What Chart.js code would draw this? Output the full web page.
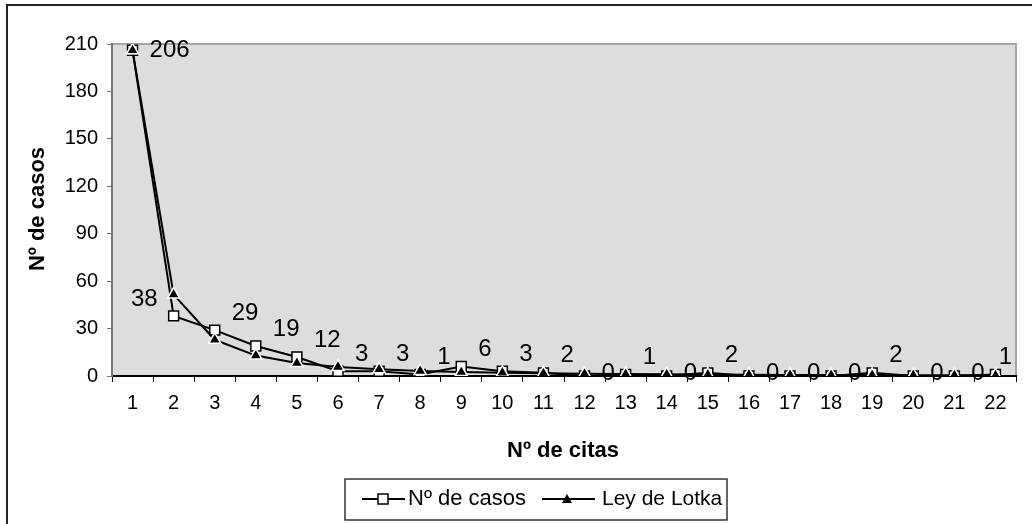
<!DOCTYPE html>
<html>
<head>
<meta charset="utf-8">
<script src="https://cdn.jsdelivr.net/npm/chart.js@4.4.1/dist/chart.umd.min.js"></script>
<style>
  html, body { margin: 0; padding: 0; background: #fff; }
  #wrap { width: 1032px; height: 524px; position: relative; }
</style>
</head>
<body>
<div id="wrap"><canvas id="chart" width="1032" height="524"></canvas></div>
<script>
// ---- data ----
const citas = ['1','2','3','4','5','6','7','8','9','10','11','12','13','14','15','16','17','18','19','20','21','22'];
const casos = [206, 38, 29, 19, 12, 3, 3, 1, 6, 3, 2, 0, 1, 0, 2, 0, 0, 0, 2, 0, 0, 1];
const lotka = [206, 51.5, 22.9, 12.9, 8.2, 5.7, 4.2, 3.2, 2.5, 2.1, 1.7, 1.4, 1.2, 1.1, 0.9, 0.8, 0.7, 0.6, 0.6, 0.5, 0.5, 0.4];
const yTicks = [0, 30, 60, 90, 120, 150, 180, 210];

const FONT = '"Liberation Sans", Arial, sans-serif';

// plot background, frame, titles, labels and legend
const excelLook = {
  id: 'excelLook',
  beforeDraw(chart) {
    const { ctx, chartArea: a } = chart;
    ctx.save();
    ctx.fillStyle = '#fff';
    ctx.fillRect(0, 0, chart.width, chart.height);
    // outer frame (runs past the window on right/bottom)
    ctx.strokeStyle = '#222';
    ctx.lineWidth = 2;
    ctx.strokeRect(7, 5, 1100, 600);
    // plot area
    ctx.fillStyle = '#dddddd';
    ctx.fillRect(a.left, a.top, a.right - a.left, a.bottom - a.top);
    ctx.strokeStyle = '#a6a6a6';
    ctx.lineWidth = 2;
    ctx.beginPath();
    ctx.moveTo(a.left, a.top);
    ctx.lineTo(a.right, a.top);
    ctx.lineTo(a.right, a.bottom);
    ctx.stroke();
    ctx.restore();
  },
  afterDatasetsDraw(chart) {
    const { ctx, chartArea: a } = chart;
    const meta = chart.getDatasetMeta(0);
    ctx.save();
    ctx.fillStyle = '#000';
    ctx.font = '24px ' + FONT;
    ctx.textBaseline = 'middle';
    meta.data.forEach((pt, i) => {
      const v = casos[i];
      const txt = String(v);
      let y = v > 0 ? pt.y - 17 : pt.y - 3;
      y = Math.max(y, a.top + 6);
      // line coming down steeply from the left: put the label on the left side
      const steep = i > 0 && meta.data[i - 1].y < pt.y - 100;
      if (steep) {
        ctx.textAlign = 'right';
        ctx.fillText(txt, pt.x - 16, y);
      } else {
        const w = ctx.measureText(txt).width;
        const x = Math.min(pt.x + 17, a.right - w - 4);
        ctx.textAlign = 'left';
        ctx.fillText(txt, x, y);
      }
    });
    ctx.restore();
  },
  afterDraw(chart) {
    const { ctx } = chart;
    ctx.save();
    ctx.fillStyle = '#000';
    ctx.textAlign = 'center';
    ctx.textBaseline = 'middle';
    ctx.font = 'bold 22px ' + FONT;
    ctx.fillText('Nº de citas', 563, 451);
    ctx.translate(38, 209);
    ctx.rotate(-Math.PI / 2);
    ctx.fillText('Nº de casos', 0, 0);
    ctx.restore();

    // legend
    ctx.save();
    ctx.strokeStyle = '#333';
    ctx.lineWidth = 1.5;
    ctx.strokeRect(345, 479, 382, 41);
    const ly = 499;
    ctx.strokeStyle = '#000';
    ctx.lineWidth = 2;
    ctx.beginPath();
    ctx.moveTo(362, ly); ctx.lineTo(405, ly);
    ctx.moveTo(542, ly); ctx.lineTo(595, ly);
    ctx.stroke();
    ctx.fillStyle = '#fff';
    ctx.lineWidth = 1.5;
    ctx.fillRect(378, ly - 5, 10, 10);
    ctx.strokeRect(378, ly - 5, 10, 10);
    ctx.fillStyle = '#000';
    ctx.beginPath();
    ctx.moveTo(567, ly - 5); ctx.lineTo(572, ly + 4); ctx.lineTo(562, ly + 4);
    ctx.closePath();
    ctx.fill();
    ctx.textAlign = 'left';
    ctx.textBaseline = 'middle';
    ctx.font = '22px ' + FONT;
    ctx.fillText('Nº de casos', 408, ly);
    ctx.font = '21px ' + FONT;
    ctx.fillText('Ley de Lotka', 602, ly);
    ctx.restore();
  }
};

new Chart(document.getElementById('chart'), {
  type: 'line',
  data: {
    labels: citas,
    datasets: [
      {
        label: 'Nº de casos',
        data: casos,
        borderColor: '#000',
        borderWidth: 2,
        pointStyle: 'rect',
        pointRadius: 7,
        pointBackgroundColor: '#fff',
        pointBorderColor: '#000',
        pointBorderWidth: 1.5,
        tension: 0,
        order: 2
      },
      {
        label: 'Ley de Lotka',
        data: lotka,
        borderColor: '#000',
        borderWidth: 2,
        pointStyle: 'triangle',
        pointRadius: 7,
        pointBackgroundColor: '#000',
        pointBorderColor: '#fff',
        pointBorderWidth: 1.5,
        tension: 0,
        order: 1
      }
    ]
  },
  options: {
    responsive: false,
    animation: false,
    devicePixelRatio: 1,
    layout: { padding: { left: 0, top: 44, right: 16, bottom: 0 } },
    plugins: {
      legend: { display: false },
      tooltip: { enabled: false }
    },
    scales: {
      x: {
        offset: true,
        afterFit: s => { s.height = 148; },
        grid: {
          offset: true,
          drawOnChartArea: false,
          drawTicks: true,
          tickLength: 6,
          color: '#000',
          lineWidth: 1
        },
        border: { color: '#000', width: 2 },
        ticks: {
          color: '#000',
          font: { family: FONT, size: 20 },
          padding: 9,
          maxRotation: 0,
          autoSkip: false
        }
      },
      y: {
        min: 0,
        max: 210,
        afterFit: s => { s.width = 112; },
        afterBuildTicks: s => { s.ticks = yTicks.map(v => ({ value: v })); },
        grid: {
          drawOnChartArea: false,
          drawTicks: true,
          tickLength: 5,
          color: '#777'
        },
        border: { color: '#777', width: 2 },
        ticks: {
          color: '#000',
          font: { family: FONT, size: 20 },
          padding: 9
        }
      }
    }
  },
  plugins: [excelLook]
});
</script>
</body>
</html>
